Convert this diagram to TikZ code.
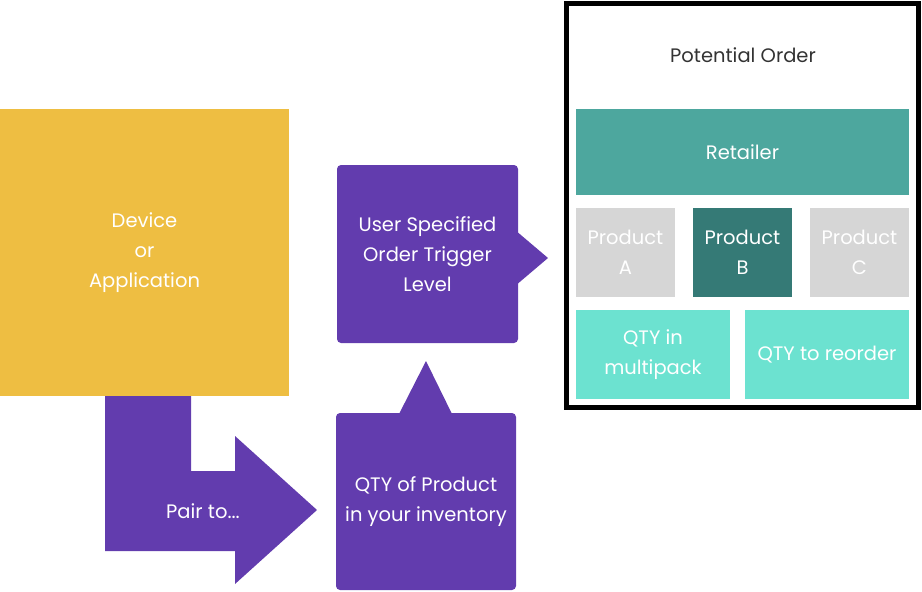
\documentclass[tikz,border=0pt]{standalone}
\usepackage{fontspec}
\setmainfont{Poppins}
\usetikzlibrary{positioning}
\usetikzlibrary{calc}

\definecolor{devyellow}{RGB}{238,190,66}
\definecolor{trigpurple}{RGB}{98,60,174}
\definecolor{shoptea}{RGB}{77,167,158}
\definecolor{prodteal}{RGB}{53,122,118}
\definecolor{prodgrey}{RGB}{214,214,214}
\definecolor{qtymint}{RGB}{108,226,208}
\definecolor{heading}{RGB}{51,51,51}

\tikzset{
block/.style={rectangle, inner sep=0pt, align=center, text=white, font=\fontsize{19.5}{30}\selectfont},
callout/.style={block, fill=trigpurple, rounded corners=4pt},
}

\begin{document}
\begin{tikzpicture}[x=1pt,y=-1pt]
\useasboundingbox (0,0) rectangle (922,592);

\node[block, fill=devyellow, minimum width=289pt, minimum height=287pt](device) at (144.5,252.5){Device\\or\\Application};

% bent arrow
\fill[trigpurple] (105,396) -- (191,396) -- (191,471) -- (235,471) -- (235,436) -- (317,510) -- (235,584) -- (235,551) -- (105,551) -- cycle;
\node[block](pair) at (203,511){Pair to...};

\node[callout, minimum width=180pt, minimum height=177pt](stock) at (426,501.5){QTY of Product\\in your inventory};
\fill[trigpurple] (398,416) -- (426,361) -- (453,416) -- cycle;

\node[callout, minimum width=181pt, minimum height=178pt](trigger) at (427.5,254){User Specified\\Order Trigger\\Level};
\fill[trigpurple] (515,230) -- (548,258) -- (515,286) -- cycle;

% potential order
\draw[line width=5pt](566.5,3.5) rectangle (918.5,407.5);
\node[block, text=heading](order) at (743,55){Potential Order};
\node[block, fill=shoptea, minimum width=333pt, minimum height=86pt](retailer) at (742.5,152){Retailer};
\node[block, fill=prodgrey, minimum width=99pt, minimum height=89pt](prodA) at (625.5,252.5){Product\\A};
\node[block, fill=prodteal, minimum width=99pt, minimum height=89pt](prodB) at (742.5,252.5){Product\\B};
\node[block, fill=prodgrey, minimum width=99pt, minimum height=89pt](prodC) at (859.5,252.5){Product\\C};
\node[block, fill=qtymint, minimum width=154pt, minimum height=89pt](multi) at (653,354.5){QTY in\\multipack};
\node[block, fill=qtymint, minimum width=164pt, minimum height=89pt](reorder) at (827,354.5){QTY to reorder};
\end{tikzpicture}
\end{document}
